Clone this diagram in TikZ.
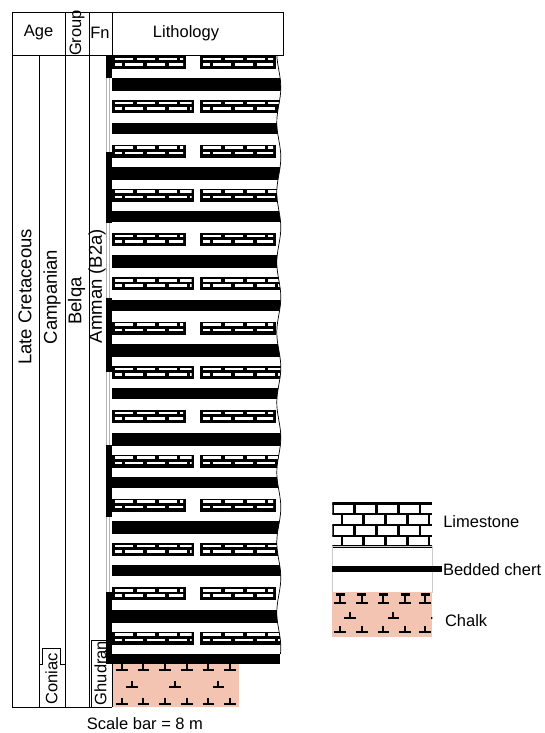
\documentclass[tikz,border=0pt]{standalone}
\usepackage{fontspec}
\setmainfont{Liberation Sans}
\definecolor{chalkc}{RGB}{244,196,178}
\tikzset{
  every node/.style={inner sep=0pt, outer sep=0pt},
  col/.style={line width=0.8pt, black},
  lab/.style={font=\fontsize{16.5}{18}\selectfont},
  vlab/.style={font=\fontsize{18.5}{20}\selectfont, rotate=90},
  vlabs/.style={font=\fontsize{16.5}{18}\selectfont, rotate=90},
  teeline/.style={line width=2.1pt, black},
}
% limestone bed: x0, x1, ytop
\newcommand{\limebox}[3]{%
  \fill[black] (#1,#3) rectangle (#2,#3+13);
  \begin{scope}
    \clip (#1+3,#3+1.5) rectangle (#2-2.5,#3+10);
    \foreach \n in {0,...,5} {
      \fill[white] ({#1+3.3+\n*21.6},#3+1.6) rectangle ++(18,2.6);
      \fill[white] ({#1+3.3-11.5+\n*21.6},#3+7) rectangle ++(18,2.6);
    }
  \end{scope}}
% chalk symbol: x, y of bar
\newcommand{\teesym}[2]{%
  \draw[teeline] (#1-5.8,#2) -- (#1+5.8,#2);
  \draw[teeline] (#1,#2) -- (#1,#2-6);}
\begin{document}
\begin{tikzpicture}[x=1pt,y=-1pt]
\useasboundingbox (0,0) rectangle (544,733);
\fill[white] (0,0) rectangle (544,733);

% ---------- lithology beds ----------
\begin{scope}
  \clip (112,50) -- plot[domain=50:656, samples=160] ({278.8+2*sin(\x*5.142857)},\x) -- (112,656) -- cycle;
  \foreach \k in {0,...,12} {
    \pgfmathsetmacro\yc{78.3+44.28*\k}
    \pgfmathsetmacro\hc{ifthenelse(mod(\k,2)==0,13,11)}
    \fill[black] (112,\yc) rectangle (292,\yc+\hc);
  }
  \foreach \k in {0,...,13} {
    \pgfmathsetmacro\yl{56+44.28*\k}
    \pgfmathsetmacro\xl{ifthenelse(mod(\k,2)==0,185.7,194)}
    \pgfmathsetmacro\xr{ifthenelse(mod(\k,2)==0,275.5,292)}
    \limebox{112}{\xl}{\yl}
    \limebox{200}{\xr}{\yl}
  }
\end{scope}
\draw[line width=0.7pt] plot[domain=55:654, samples=160] ({278.8+2*sin(\x*5.142857)},\x);
\fill[black] (112,654) rectangle (279.5,663.5);

% chalk
\fill[chalkc] (112,663.5) rectangle (239,707);
\foreach \xx in {121.7,143.3,165,186.7,208.3,230} { \teesym{\xx}{670} \teesym{\xx}{704} }
\foreach \xx in {131.7,175,218.3} { \teesym{\xx}{687} }

% ---------- columns ----------
\draw[col] (12,12) rectangle (283,55);
\draw[col] (65,12) -- (65,55);
\draw[col] (89,12) -- (89,55);
\draw[col] (112,12) -- (112,55);
\draw[col] (12,55) -- (12,707) -- (112,707);
\draw[col] (39,55) -- (39,707);
\draw[col] (65,55) -- (65,707);
\draw[col] (89,55) -- (89,707);
\draw[col] (112,663.5) -- (112,707);

% Fn bar
\draw[gray!60, line width=0.5pt, fill=white] (106.3,56) rectangle (109.7,663.5);
\foreach \a/\b in {56/78, 152/223, 298/372, 445/517, 592/663.5} {
  \fill[black] (106.3,\a) rectangle (112,\b);
}

% Coniac and Ghudran boxes
\draw[col] (39,664) -- (42.7,664) -- (42.7,648.3) -- (60,648.3) -- (60,664) -- (65,664);
\draw[col] (91.7,707) -- (91.7,640) -- (106.3,640);

% ---------- header labels ----------
\node[lab] (age) at (38.5,33) {Age};
\node[vlabs] (grp) at (77,33) {Group};
\node[lab] (fn) at (100,33) {Fn};
\node[lab] (lith) at (186,33) {Lithology};

% vertical labels
\node[vlab] (lc) at (25,297) {Late Cretaceous};
\node[vlab] (camp) at (52,297) {Campanian};
\node[vlab] (belqa) at (76.5,301) {Belqa};
\node[vlab] (amman) at (97,286) {Amman (B2a)};
\node[vlabs] (coniac) at (51.5,679) {Coniac};
\node[vlabs] (ghud) at (100.5,673) {Ghudran};

\node[lab] (scale) at (145,724) {Scale bar = 8 m};

% ---------- legend ----------
% limestone
\fill[white] (332.3,503.3) rectangle (432.3,546.7);
\begin{scope}
  \clip (332.3,502) rectangle (432.3,548);
  \foreach \yy in {503.3,514,525,536,546.7} { \draw[line width=2.6pt] (332.3,\yy) -- (432.3,\yy); }
  \foreach \r/\off in {0/333, 1/342, 2/333, 3/342} {
    \foreach \n in {0,...,4} {
      \draw[line width=2.6pt] ({\off+\n*21.75},{503.3+\r*10.85}) -- ++(0,10.85);
    }
  }
\end{scope}
% chert
\draw[gray!40, line width=0.6pt] (332.3,546.7) rectangle (432.3,592);
\fill[black] (332,566) rectangle (441.7,572);
% chalk
\fill[chalkc] (332.3,592) rectangle (432.3,636.7);
\begin{scope}
  \clip (332.3,592) rectangle (432.3,636.7);
  \foreach \xx in {340,361.7,383.3,405,425} {
    \teesym{\xx}{603.3}
    \draw[teeline] (\xx-4.5,594.5) -- (\xx+4.5,594.5);
    \draw[teeline] (\xx,594.5) -- (\xx,603.3);
    \teesym{\xx}{631.7}
  }
  \foreach \xx in {350,393.3,436.5} { \teesym{\xx}{617.7} }
\end{scope}

\node[lab, anchor=west] (lleg) at (443.3,521.7) {Limestone};
\node[lab, anchor=west] (cleg) at (443,570) {Bedded chert};
\node[lab, anchor=west] (kleg) at (445,620.7) {Chalk};
\end{tikzpicture}
\end{document}
